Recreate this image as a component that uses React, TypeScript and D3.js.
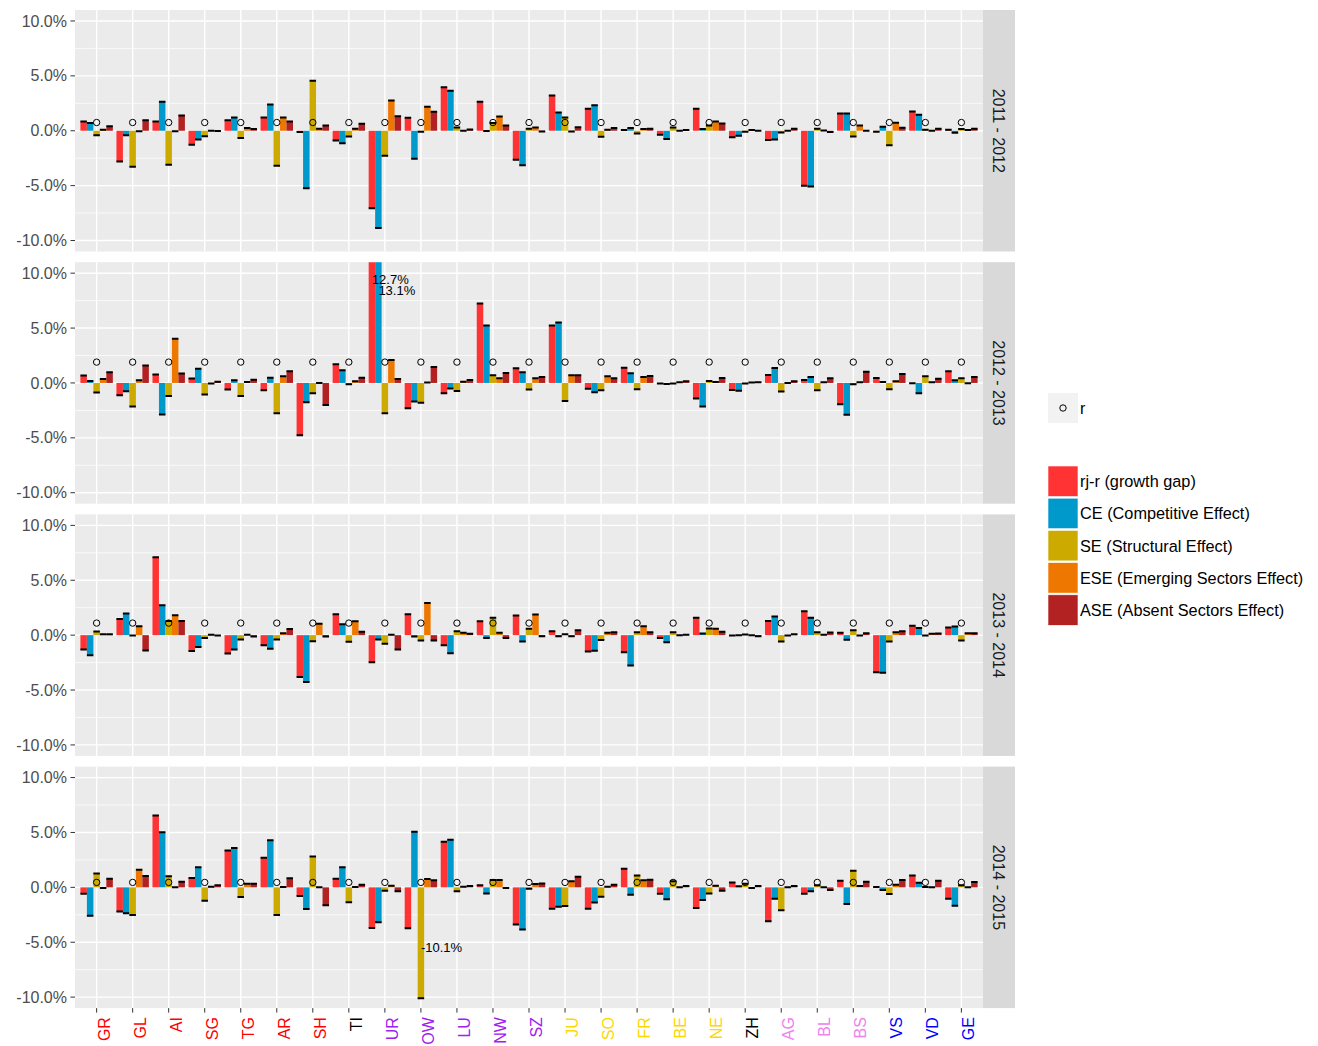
import React from 'react';
import * as d3 from 'd3';

// regions along the x axis and the colour of their tick labels
const regions = ['GR', 'GL', 'AI', 'SG', 'TG', 'AR', 'SH', 'TI', 'UR', 'OW', 'LU', 'NW', 'SZ',
  'JU', 'SO', 'FR', 'BE', 'NE', 'ZH', 'AG', 'BL', 'BS', 'VS', 'VD', 'GE'];
const regionColors = ['#FF0000', '#FF0000', '#FF0000', '#FF0000', '#FF0000', '#FF0000', '#FF0000', '#000000',
  '#A020F0', '#A020F0', '#A020F0', '#A020F0', '#A020F0',
  '#FFD700', '#FFD700', '#FFD700', '#FFD700', '#FFD700', '#000000',
  '#EE82EE', '#EE82EE', '#EE82EE', '#0000FF', '#0000FF', '#0000FF'];

const periods = ['2011 - 2012', '2012 - 2013', '2013 - 2014', '2014 - 2015'];

// national growth r per period (%)
const nationalGrowth = [0.75, 1.9, 1.1, 0.45];

const seriesNames = ['rj-r (growth gap)', 'CE (Competitive Effect)', 'SE (Structural Effect)',
  'ESE (Emerging Sectors Effect)', 'ASE (Absent Sectors Effect)'];
const seriesColors = ['#FF3333', '#0099CC', '#CCAA00', '#EE7700', '#B22222'];

// values in %, one array per period, in the order of `regions`
const growthGap = [
  [0.85, -2.8, 0.85, -1.27, 0.95, 1.2, -0.12, -0.88, -7.06, 1.18, 3.97, 2.64, -2.64, 3.21, 2.0, 0.06, -0.36, 2.0, -0.6, -0.85, -5.0, 1.58, -0.09, 1.76, 0.09],
  [0.67, -1.12, 0.78, 0.4, -0.6, -0.67, -4.76, 1.7, 12.7, -2.3, -0.94, 7.24, 1.33, 5.24, -0.52, 1.39, -0.06, -1.42, -0.64, 0.73, 0.27, -1.94, 0.45, -0.03, 1.06],
  [-1.3, 1.48, 7.09, -1.45, -1.67, -0.91, -3.82, 1.9, -2.48, 1.9, -0.91, 1.27, 1.79, 0.36, -1.48, -1.55, -0.27, 1.58, -0.03, 1.3, 2.18, 0.21, -3.39, 0.85, 0.7],
  [-0.58, -2.21, 6.55, 0.85, 3.36, 2.7, -0.79, 0.79, -3.7, -3.73, 4.15, 0.18, -3.39, -1.94, -1.94, 1.7, -0.58, -1.88, 0.45, -3.09, -0.58, 0.6, 0.03, 1.09, -1.03],
];
const competitiveEffect = [
  [0.7, -0.42, 2.64, -0.8, 1.2, 2.4, -5.24, -1.15, -8.85, -2.55, 3.64, -0.03, -3.15, 1.67, 2.33, 0.24, -0.76, 0.15, -0.45, -0.79, -5.09, 1.58, 0.36, 1.45, -0.18],
  [0.18, -0.76, -2.88, 1.3, 0.24, 0.48, -1.76, 1.15, 13.1, -1.7, -0.5, 5.24, 0.97, 5.5, -0.85, 0.88, -0.1, -2.15, -0.7, 1.36, 0.55, -2.9, 0.09, -0.94, 0.24],
  [-1.82, 1.97, 2.73, -1.09, -1.3, -1.24, -4.27, 1.0, -0.39, -0.12, -1.64, -0.27, -0.58, -0.09, -1.42, -2.76, -0.64, 0.15, 0.0, 1.7, 1.58, -0.42, -3.42, 0.64, 0.79],
  [-2.58, -2.36, 5.03, 1.82, 3.58, 4.3, -1.97, 1.82, -3.18, 5.06, 4.33, -0.55, -3.85, -1.76, -1.39, -0.67, -1.09, -1.15, 0.09, -1.03, -0.36, -1.52, -0.24, 0.42, -1.67],
];
const structuralEffect = [
  [-0.42, -3.27, -3.1, -0.5, -0.67, -3.18, 4.55, -0.52, -2.27, -0.09, 0.3, 0.7, 0.18, 1.2, -0.55, -0.24, 0.3, 0.48, -0.09, -0.15, 0.18, -0.52, -1.33, 0.09, 0.15],
  [-0.88, -2.15, -1.18, -1.06, -1.2, -2.76, -0.94, -0.12, -2.76, -1.8, -0.73, 0.7, -0.6, -1.64, -0.67, -0.58, -0.06, 0.18, -0.06, -0.79, -0.67, -0.12, -0.58, 0.6, 0.42],
  [0.33, -0.03, 1.3, -0.27, -0.39, -0.39, -0.55, -0.6, -0.79, -0.48, 0.36, 1.58, 0.58, 0.09, -0.45, 0.27, 0.27, 0.6, 0.06, -0.58, 0.27, 0.45, -0.58, -0.03, -0.48],
  [1.27, -2.52, 1.0, -1.21, -0.88, -2.52, 2.82, -1.36, -0.3, -10.1, -0.36, 0.67, -0.12, -1.7, -0.85, 1.09, 0.55, -0.55, 0.33, -2.09, 0.18, 1.52, -0.61, 0.03, 0.18],
];
const emergingEffect = [
  [0.1, -0.05, -0.05, 0.0, 0.25, 1.2, 0.18, 0.18, 2.76, 2.18, 0.0, 1.3, 0.3, -0.06, 0.09, 0.15, 0.0, 0.85, 0.06, 0.0, 0.02, 0.48, 0.73, 0.0, 0.06],
  [0.36, 0.24, 4.03, -0.06, 0.09, 0.6, 0.0, 0.15, 2.09, 0.03, 0.12, 0.42, 0.42, 0.7, 0.6, 0.55, 0.06, 0.09, 0.03, 0.0, 0.06, 0.06, 0.15, 0.06, -0.03],
  [0.09, 0.82, 1.82, 0.03, 0.03, 0.18, 1.03, 1.27, 0.03, 2.94, 0.21, 0.21, 1.88, -0.09, 0.21, 0.82, 0.0, 0.58, 0.0, -0.03, 0.03, -0.03, 0.27, 0.12, 0.18],
  [-0.06, 1.6, 0.0, 0.06, 0.33, 0.03, 0.0, 0.03, 0.15, 0.76, 0.06, 0.67, 0.3, 0.55, 0.06, 0.64, 0.0, 0.15, -0.06, 0.0, 0.0, 0.12, 0.24, 0.0, 0.0],
];
const absentEffect = [
  [0.4, 0.95, 1.4, -0.02, 0.15, 0.85, 0.48, 0.64, 1.33, 1.73, 0.12, 0.48, -0.06, 0.33, 0.24, 0.18, 0.06, 0.67, 0.0, 0.18, -0.12, 0.0, 0.27, 0.18, 0.18],
  [0.97, 1.6, 0.85, 0.12, 0.3, 1.06, -2.0, 0.48, 0.36, 1.45, 0.27, 0.9, 0.55, 0.7, 0.42, 0.64, 0.15, 0.45, 0.06, 0.15, 0.42, 1.03, 0.82, 0.39, 0.55],
  [0.09, -1.39, 1.3, -0.03, -0.12, 0.55, -0.12, 0.3, -1.3, -0.48, 0.12, -0.27, -0.09, 0.45, 0.27, 0.27, 0.03, 0.3, -0.09, 0.09, 0.24, 0.18, 0.36, 0.15, 0.18],
  [0.79, 1.03, 0.52, 0.18, 0.33, 0.82, -1.64, 0.24, -0.36, 0.64, 0.12, -0.06, 0.36, 0.97, 0.24, 0.7, 0.12, -0.3, 0.12, 0.12, -0.24, 0.52, 0.67, 0.6, 0.48],
];
const allSeries = [growthGap, competitiveEffect, structuralEffect, emergingEffect, absentEffect];

// value labels written next to extreme bars: [period, region, series, label y (%)]
const valueLabels: [number, string, number, number][] = [
  [1, 'UR', 0, 9.4],
  [1, 'UR', 1, 8.4],
  [3, 'OW', 2, -5.5],
];

const yTicks = [-10, -5, 0, 5, 10];
const yMinor = [-7.5, -2.5, 2.5, 7.5];

const width = 1318;
const height = 1046;
const plotLeft = 75;
const plotRight = 983;
const stripWidth = 32;
const panelTop0 = 10;
const panelHeight = 241.5;
const panelPitch = 252.2;
const font = '"Liberation Sans", Arial, Helvetica, sans-serif';

// plain hyphen for negatives, like R prints them
const pct = d3.formatLocale({ decimal: '.', thousands: ',', grouping: [3], currency: ['', ''], minus: '-' }).format('.1f');
const fmt = (v: number) => pct(v) + '%';

export default function App() {
  const x = d3.scaleBand<string>().domain(regions).range([plotLeft, plotRight]).paddingInner(0).paddingOuter(0.1);
  const step = x.step();
  const xs = d3.scaleBand<number>().domain(d3.range(5)).range([-0.45 * step, 0.45 * step]);
  const cx = (r: string) => (x(r) as number) + x.bandwidth() / 2;

  const panels = periods.map((period, p) => {
    const top = panelTop0 + p * panelPitch;
    const y = d3.scaleLinear().domain([-11, 11]).range([top + panelHeight, top]);
    return { period, p, top, y };
  });
  const lastPanel = panels[panels.length - 1];

  return (
    <svg width={width} height={height} style={{ position: 'absolute', left: 0, top: 0, background: '#fff' }}
      fontFamily={font}>
      <defs>
        {panels.map(({ p, top }) => (
          <clipPath id={`clip${p}`} key={p}>
            <rect x={plotLeft} y={top} width={plotRight - plotLeft} height={panelHeight} />
          </clipPath>
        ))}
      </defs>

      {panels.map(({ period, p, top, y }) => (
        <g key={period}>
          <rect x={plotLeft} y={top} width={plotRight - plotLeft} height={panelHeight} fill="#EBEBEB" />
          {yMinor.map(t => (
            <line key={t} x1={plotLeft} x2={plotRight} y1={y(t)} y2={y(t)} stroke="#fff" strokeWidth={0.7} />
          ))}
          {yTicks.map(t => (
            <line key={t} x1={plotLeft} x2={plotRight} y1={y(t)} y2={y(t)} stroke="#fff" strokeWidth={1.4} />
          ))}
          {regions.map(r => (
            <line key={r} x1={cx(r)} x2={cx(r)} y1={top} y2={top + panelHeight} stroke="#fff" strokeWidth={1.4} />
          ))}

          <g clipPath={`url(#clip${p})`}>
            {regions.map((r, i) => (
              <g key={r} transform={`translate(${cx(r)},0)`}>
                {allSeries.map((s, k) => {
                  const v = s[p][i];
                  const x0 = xs(k) as number;
                  return (
                    <g key={k}>
                      <rect x={x0} width={xs.bandwidth()} y={Math.min(y(v), y(0))}
                        height={Math.abs(y(v) - y(0))} fill={seriesColors[k]} />
                      <line x1={x0} x2={x0 + xs.bandwidth()} y1={y(v)} y2={y(v)} stroke="#000" strokeWidth={2} />
                    </g>
                  );
                })}
                <circle cx={0} cy={y(nationalGrowth[p])} r={3.2} fill="none" stroke="#000" strokeWidth={1} />
              </g>
            ))}
          </g>

          {valueLabels.filter(l => l[0] === p).map(([, r, k, ly]) => {
            const v = allSeries[k][p][regions.indexOf(r)];
            return (
              <text key={`${r}${k}`} x={cx(r) + (xs(k) as number) + xs.bandwidth() / 2} y={y(ly)} dy="0.35em"
                fontSize={13} fill="#000">{fmt(v)}</text>
            );
          })}

          {yTicks.map(t => (
            <g key={t}>
              <line x1={plotLeft - 4.5} x2={plotLeft} y1={y(t)} y2={y(t)} stroke="#333" strokeWidth={1} />
              <text x={plotLeft - 8} y={y(t)} dy="0.35em" textAnchor="end" fontSize={16} fill="#4D4D4D">{fmt(t)}</text>
            </g>
          ))}

          <rect x={plotRight} y={top} width={stripWidth} height={panelHeight} fill="#D9D9D9" />
          <text transform={`translate(${plotRight + stripWidth / 2},${top + panelHeight / 2}) rotate(90)`}
            textAnchor="middle" dy="0.35em" fontSize={16} fill="#1A1A1A">{period}</text>
        </g>
      ))}

      {regions.map((r, i) => {
        const yb = lastPanel.top + panelHeight;
        return (
          <g key={r}>
            <line x1={cx(r)} x2={cx(r)} y1={yb} y2={yb + 4.5} stroke="#333" strokeWidth={1} />
            <text transform={`translate(${cx(r) + 13},${yb + 9}) rotate(-90)`} textAnchor="end"
              fontSize={16} fill={regionColors[i]}>{r}</text>
          </g>
        );
      })}

      {/* legend */}
      <g>
        <rect x={1048} y={393} width={30} height={30} fill="#F2F2F2" />
        <circle cx={1063} cy={408} r={3.2} fill="none" stroke="#000" strokeWidth={1} />
        <text x={1080} y={408} dy="0.35em" fontSize={16} fill="#000">r</text>
        {seriesNames.map((name, k) => (
          <g key={name} transform={`translate(1048,${466 + k * 32.2})`}>
            <rect width={30} height={30.5} fill={seriesColors[k]} stroke="#fff" strokeWidth={0.6} />
            <text x={32} y={15.5} dy="0.35em" fontSize={16.3} fill="#000">{name}</text>
          </g>
        ))}
      </g>
    </svg>
  );
}
